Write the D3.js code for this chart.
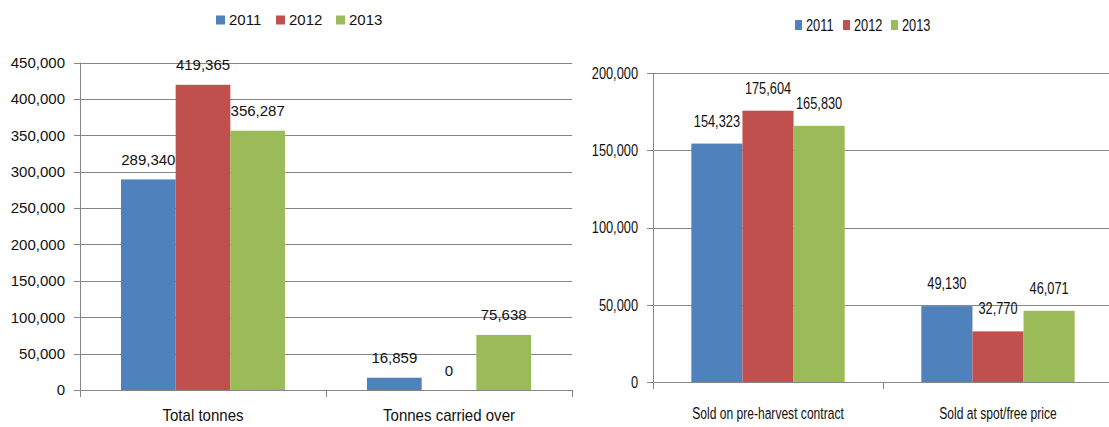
<!DOCTYPE html>
<html>
<head>
<meta charset="utf-8">
<script src="https://cdn.jsdelivr.net/npm/d3@7"></script>
<style>
  html, body { margin: 0; padding: 0; background: #fff; }
  svg { display: block; font-family: "Liberation Sans", Arial, sans-serif; }
</style>
</head>
<body>
<svg id="chart" width="1109" height="427"></svg>
<script>
// ---------- data ----------
const years = ["2011", "2012", "2013"];
const colors = ["#4F81BD", "#C0504D", "#9BBB59"];

const leftCategories = ["Total tonnes", "Tonnes carried over"];
const leftValues2011 = [289340, 16859];
const leftValues2012 = [419365, 0];
const leftValues2013 = [356287, 75638];
const leftTicks = [0, 50000, 100000, 150000, 200000, 250000, 300000, 350000, 400000, 450000];

const rightCategories = ["Sold on pre-harvest contract", "Sold at spot/free price"];
const rightValues2011 = [154323, 49130];
const rightValues2012 = [175604, 32770];
const rightValues2013 = [165830, 46071];
const rightTicks = [0, 50000, 100000, 150000, 200000];

// ---------- drawing ----------
const svg = d3.select("#chart");
const fmt = d3.format(",");
const gridColor = "#868686";
const textColor = "#111";

function drawPanel(cfg) {
  const g = svg.append("g");
  const series = [cfg.v2011, cfg.v2012, cfg.v2013];
  const x = d3.scaleBand().domain(cfg.categories).range([cfg.x0, cfg.x1]).paddingInner(0).paddingOuter(0);
  const bandW = x.bandwidth();
  const barW = bandW / 4.5;
  const xs = d3.scaleBand().domain(years).range([0, barW * 3]);
  const y = d3.scaleLinear().domain([0, cfg.ticks[cfg.ticks.length - 1]]).range([cfg.y0, cfg.y1]);

  const sx = cfg.sx;
  // gridlines
  g.append("g").selectAll("line").data(cfg.ticks).join("line")
    .attr("x1", cfg.x0 - 6).attr("x2", cfg.x1)
    .attr("y1", d => Math.round(y(d)) + 0.5).attr("y2", d => Math.round(y(d)) + 0.5)
    .attr("stroke", gridColor).attr("stroke-width", 1);

  // y tick labels
  g.append("g").selectAll("text").data(cfg.ticks).join("text")
    .attr("transform", d => `translate(${cfg.x0 - 15},${y(d)}) scale(${sx},1)`)
    .attr("text-anchor", "end").attr("dy", "0.36em")
    .attr("font-size", cfg.numSize).attr("fill", textColor)
    .text(d => fmt(d));

  // bars
  const groups = g.append("g").selectAll("g").data(series).join("g")
    .attr("fill", (d, i) => colors[i]);
  groups.selectAll("rect").data((d, i) => d.map((v, j) => ({ v, j, i }))).join("rect")
    .attr("x", d => x(cfg.categories[d.j]) + (bandW - barW * 3) / 2 + xs(years[d.i]))
    .attr("width", xs.bandwidth())
    .attr("y", d => y(d.v))
    .attr("height", d => y(0) - y(d.v));

  // value labels
  const labels = [];
  series.forEach((arr, i) => arr.forEach((v, j) => labels.push({ v, i, j })));
  g.append("g").selectAll("text").data(labels).join("text")
    .attr("transform", d => {
      const cx = x(cfg.categories[d.j]) + (bandW - barW * 3) / 2 + xs(years[d.i]) + xs.bandwidth() / 2;
      return `translate(${cx},${y(d.v) - cfg.labelOff}) scale(${sx},1)`;
    })
    .attr("text-anchor", "middle")
    .attr("font-size", cfg.numSize).attr("fill", textColor)
    .text(d => fmt(d.v));

  // vertical axis line
  g.append("line")
    .attr("x1", cfg.x0 + 0.5).attr("x2", cfg.x0 + 0.5)
    .attr("y1", y.range()[1]).attr("y2", cfg.y0 + 7)
    .attr("stroke", gridColor);
  // baseline
  g.append("line")
    .attr("x1", cfg.x0).attr("x2", cfg.x1)
    .attr("y1", Math.round(y(0)) + 0.5).attr("y2", Math.round(y(0)) + 0.5)
    .attr("stroke", gridColor);
  // category ticks
  const bounds = cfg.categories.map(c => x(c)).concat([cfg.x1]).slice(1);
  g.append("g").selectAll("line").data(bounds).join("line")
    .attr("x1", d => Math.round(d) + 0.5).attr("x2", d => Math.round(d) + 0.5)
    .attr("y1", y(0)).attr("y2", y(0) + 7)
    .attr("stroke", gridColor);

  // category labels
  g.append("g").selectAll("text").data(cfg.categories).join("text")
    .attr("transform", d => `translate(${x(d) + bandW / 2},${cfg.catY}) scale(${cfg.catSx},1)`)
    .attr("text-anchor", "middle")
    .attr("font-size", cfg.catSize).attr("fill", textColor)
    .text(d => d);

  // legend
  const lg = g.append("g");
  years.forEach((yr, i) => {
    const lx = cfg.legX + i * cfg.legStep;
    lg.append("rect")
      .attr("x", lx).attr("y", cfg.legY - cfg.legSqH / 2)
      .attr("width", cfg.legSqW).attr("height", cfg.legSqH)
      .attr("fill", colors[i]);
    lg.append("text")
      .attr("transform", `translate(${lx + cfg.legSqW + 4},${cfg.legY}) scale(${sx},1)`)
      .attr("dy", "0.36em")
      .attr("font-size", cfg.legSize).attr("fill", textColor)
      .text(yr);
  });
}

drawPanel({
  categories: leftCategories, v2011: leftValues2011, v2012: leftValues2012, v2013: leftValues2013,
  ticks: leftTicks, x0: 80, x1: 572, y0: 390, y1: 62.5, sx: 1, labelOff: 14.5, numSize: 15,
  catY: 421, catSize: 16, catSx: 0.94,
  legX: 216, legStep: 60, legY: 20, legSqW: 9, legSqH: 9, legSize: 15
});

drawPanel({
  categories: rightCategories, v2011: rightValues2011, v2012: rightValues2012, v2013: rightValues2013,
  ticks: rightTicks, x0: 653, x1: 1113, y0: 382, y1: 73, sx: 0.8, labelOff: 17, numSize: 16,
  catY: 419, catSize: 17, catSx: 0.71,
  legX: 795, legStep: 48, legY: 25, legSqW: 7, legSqH: 10, legSize: 16
});
</script>
</body>
</html>
